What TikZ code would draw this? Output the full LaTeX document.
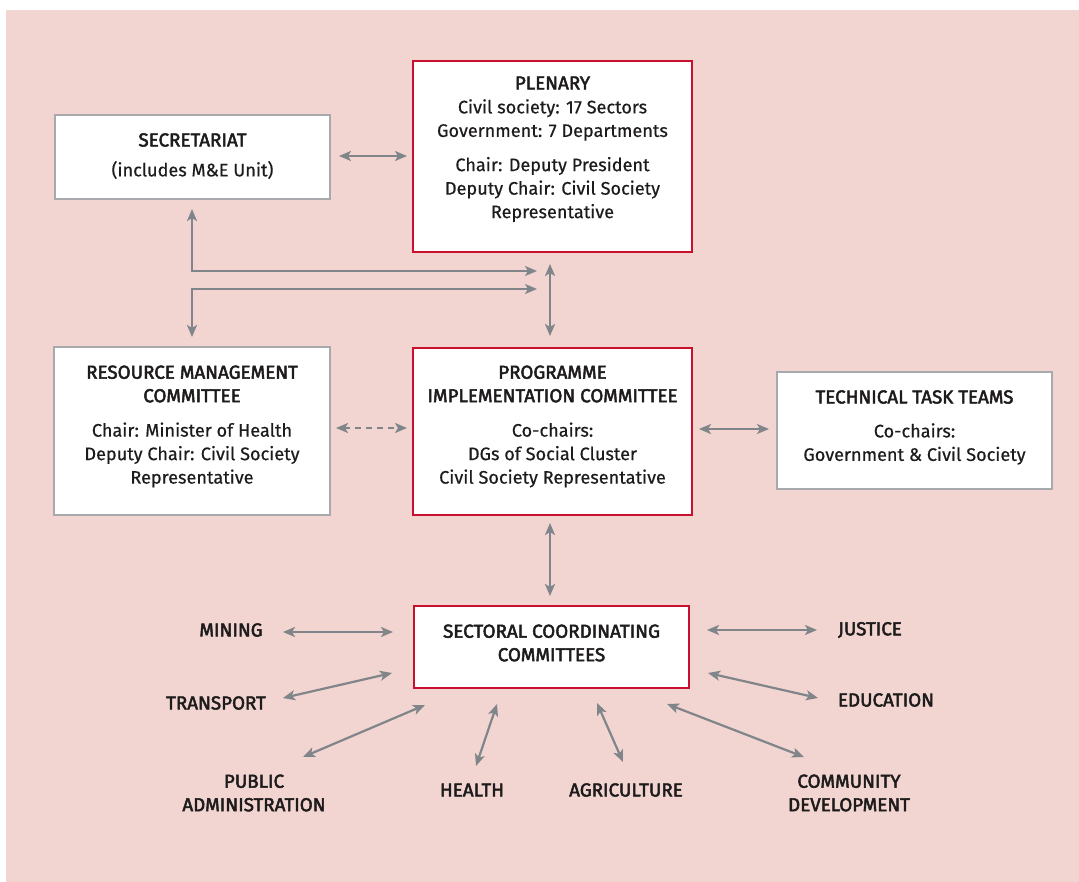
\documentclass[tikz,border=0pt]{standalone}
\usepackage{fontspec}
\setmainfont[FakeBold=0.5]{Fira Sans}
\newfontfamily\hdfont[FakeBold=2.6]{Fira Sans}
\usetikzlibrary{arrows.meta,calc}
\definecolor{bgpink}{HTML}{F2D5D0}
\definecolor{boxred}{HTML}{C8102E}
\definecolor{boxgray}{HTML}{A7A9AC}
\definecolor{arrgray}{HTML}{80858A}
\definecolor{txtcol}{HTML}{1E1B1C}
\begin{document}
\begin{tikzpicture}[x=1pt,y=-1pt,
  graybox/.style={draw=boxgray,line width=2pt,fill=white,inner sep=0pt},
  redbox/.style={draw=boxred,line width=2pt,fill=white,inner sep=0pt},
  txt/.style={text=txtcol,align=center,inner sep=0pt,font=\fontsize{18.1}{23.5}\selectfont},
  hd/.style={txt,font=\fontsize{18.8}{23.5}\selectfont\hdfont},
  arr/.style={draw=arrgray,line width=2.2pt,{Stealth[length=12pt,width=10pt,inset=3pt]}-{Stealth[length=12pt,width=10pt,inset=3pt]}},
  dasharr/.style={arr,dash pattern=on 6pt off 5pt}
]
\useasboundingbox (0,0) rectangle (1079,882);
\fill[white] (0,0) rectangle (1079,882);
\fill[bgpink] (6,10) rectangle (1079,882);

% boxes
\node[graybox,minimum width=275pt,minimum height=84pt] (sec) at (192.5,157) {};
\node[redbox,minimum width=279pt,minimum height=191pt] (plen) at (552.5,156.5) {};
\node[graybox,minimum width=276pt,minimum height=168pt] (rmc) at (192,431) {};
\node[redbox,minimum width=279pt,minimum height=167pt] (pic) at (552.5,431.5) {};
\node[graybox,minimum width=275pt,minimum height=117pt] (ttt) at (914.5,430.5) {};
\node[redbox,minimum width=275pt,minimum height=82pt] (scc) at (551.5,647) {};

% box texts
\node[hd] (sect) at (192.5,140) {SECRETARIAT};
\node[txt] (sect2) at (192.5,170) {(includes M\&E Unit)};

\node[hd] (plent) at (552.5,83) {PLENARY};
\node[txt] (plent2) at (552.5,120) {Civil society: 17 Sectors\\Government: 7 Departments};
\node[txt] (plent3) at (552.5,189.5) {Chair: Deputy President\\Deputy Chair: Civil Society\\Representative};

\node[hd] (rmct) at (192,384) {RESOURCE MANAGEMENT\\COMMITTEE};
\node[txt] (rmct2) at (192,455) {Chair: Minister of Health\\Deputy Chair: Civil Society\\Representative};

\node[hd] (pict) at (552.5,384) {PROGRAMME\\IMPLEMENTATION COMMITTEE};
\node[txt] (pict2) at (552.5,455) {Co-chairs:\\DGs of Social Cluster\\Civil Society Representative};

\node[hd] (tttt) at (914.5,397) {TECHNICAL TASK TEAMS};
\node[txt] (tttt2) at (914.5,444) {Co-chairs:\\Government \& Civil Society};

\node[hd] (scct) at (551.5,643) {SECTORAL COORDINATING\\COMMITTEES};

% sector labels
\node[hd] (mining) at (231,630) {MINING};
\node[hd] (transport) at (216,703) {TRANSPORT};
\node[hd] (pubadm) at (254,793) {PUBLIC\\ADMINISTRATION};
\node[hd] (health) at (472,790) {HEALTH};
\node[hd] (agri) at (626,790) {AGRICULTURE};
\node[hd] (comdev) at (849,793) {COMMUNITY\\DEVELOPMENT};
\node[hd] (educ) at (886,700) {EDUCATION};
\node[hd] (just) at (870,630) {JUSTICE};

% helper coordinates
\coordinate (vx) at (550,0);
\coordinate (hu) at (537,271);
\coordinate (hl) at (537,289);
\coordinate (lx) at (192,0);
\coordinate (yd) at (0,428);
\coordinate (yt) at (0,429);

% main connectors
\draw[arr,shorten <=8pt,shorten >=5pt] (sec.east |- 0,156) -- (plen.west |- 0,156);
\draw[arr,shorten <=11pt,shorten >=11pt] (plen.south -| vx) -- (pic.north -| vx);
\draw[arr,shorten <=9pt] (sec.south -| lx) |- (hu);
\draw[arr,shorten >=9pt] (hl) -| (rmc.north -| lx);
\draw[dasharr,shorten <=5pt,shorten >=5pt] (rmc.east |- yd) -- (pic.west |- yd);
\draw[arr,shorten <=6pt,shorten >=7pt] (pic.east |- yt) -- (ttt.west |- yt);
\draw[arr,shorten <=7pt,shorten >=9pt] (pic.south -| vx) -- (scc.north -| vx);

% sector connectors
\coordinate (m1) at (283,632); \coordinate (m2) at (393,632);
\coordinate (t1) at (283,698); \coordinate (t2) at (392,673);
\coordinate (p1) at (303,757); \coordinate (p2) at (425,705);
\coordinate (h1) at (476,766); \coordinate (h2) at (497,704);
\coordinate (a1) at (623,762); \coordinate (a2) at (597,703);
\coordinate (c1) at (804,757); \coordinate (c2) at (667,704);
\coordinate (e1) at (818,698); \coordinate (e2) at (708,673);
\coordinate (j1) at (817,630); \coordinate (j2) at (707,630);
\draw[arr] (m1) -- (m2);
\draw[arr] (t1) -- (t2);
\draw[arr] (p1) -- (p2);
\draw[arr] (h1) -- (h2);
\draw[arr] (a1) -- (a2);
\draw[arr] (c1) -- (c2);
\draw[arr] (e1) -- (e2);
\draw[arr] (j1) -- (j2);
\end{tikzpicture}
\end{document}
